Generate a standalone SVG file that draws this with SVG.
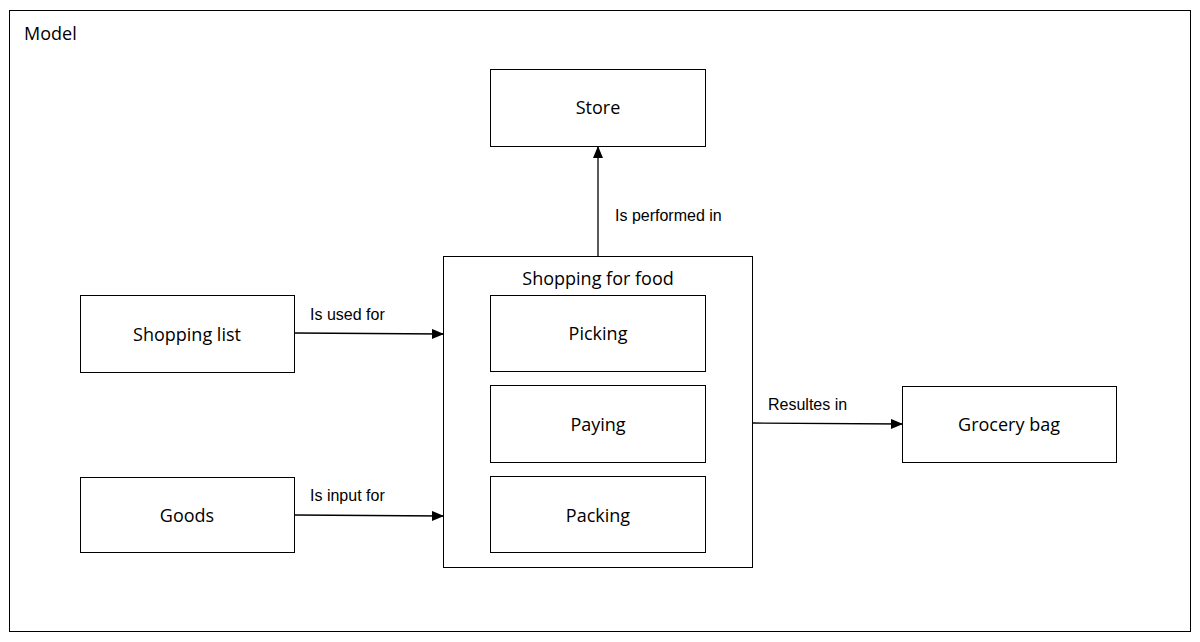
<svg xmlns="http://www.w3.org/2000/svg" width="1200" height="642" viewBox="0 0 1200 642">
<style>
rect{fill:#fff;stroke:#000;stroke-width:1}
.n{font-family:"Open Sans",sans-serif;font-size:18px;text-anchor:middle}
.l{font-family:"Liberation Sans",Arial,sans-serif;font-size:16px}
.c{stroke:#000;stroke-width:1.3;fill:none;marker-end:url(#a)}
</style>
<defs><marker id="a" markerWidth="12" markerHeight="10" refX="11" refY="5" orient="auto" markerUnits="userSpaceOnUse"><path d="M0,0 L12,5 L0,10 z" fill="#000"/></marker></defs>
<rect width="1200" height="642" style="stroke:none"/>
<g id="model"><rect x="9.5" y="10.5" width="1181" height="621"/><text x="24" y="40" class="n" style="text-anchor:start">Model</text></g>
<g id="store"><rect x="490.5" y="69.5" width="215" height="77"/><text x="598" y="114" class="n">Store</text></g>
<g id="shopping"><rect x="443.5" y="256.5" width="309" height="311"/><text x="598" y="285" class="n">Shopping for food</text></g>
<g id="picking"><rect x="490.5" y="295.5" width="215" height="76"/><text x="598" y="340" class="n">Picking</text></g>
<g id="paying"><rect x="490.5" y="385.5" width="215" height="77"/><text x="598" y="431" class="n">Paying</text></g>
<g id="packing"><rect x="490.5" y="476.5" width="215" height="76"/><text x="598" y="522" class="n">Packing</text></g>
<g id="list"><rect x="80.5" y="295.5" width="214" height="77"/><text x="187" y="341" class="n">Shopping list</text></g>
<g id="goods"><rect x="80.5" y="477.5" width="214" height="75"/><text x="187" y="522" class="n">Goods</text></g>
<g id="bag"><rect x="902.5" y="386.5" width="214" height="76"/><text x="1009" y="431" class="n">Grocery bag</text></g>
<g id="connectors">
<path class="c" d="M295,333 L443,334"/>
<path class="c" d="M295,515 L443,516"/>
<path class="c" d="M598,256 L598,147"/>
<path class="c" d="M753,423 L902,424"/>
<text x="310" y="320" class="l">Is used for</text>
<text x="310" y="501" class="l">Is input for</text>
<text x="615" y="221" class="l">Is performed in</text>
<text x="768" y="410" class="l">Resultes in</text>
</g>
</svg>
